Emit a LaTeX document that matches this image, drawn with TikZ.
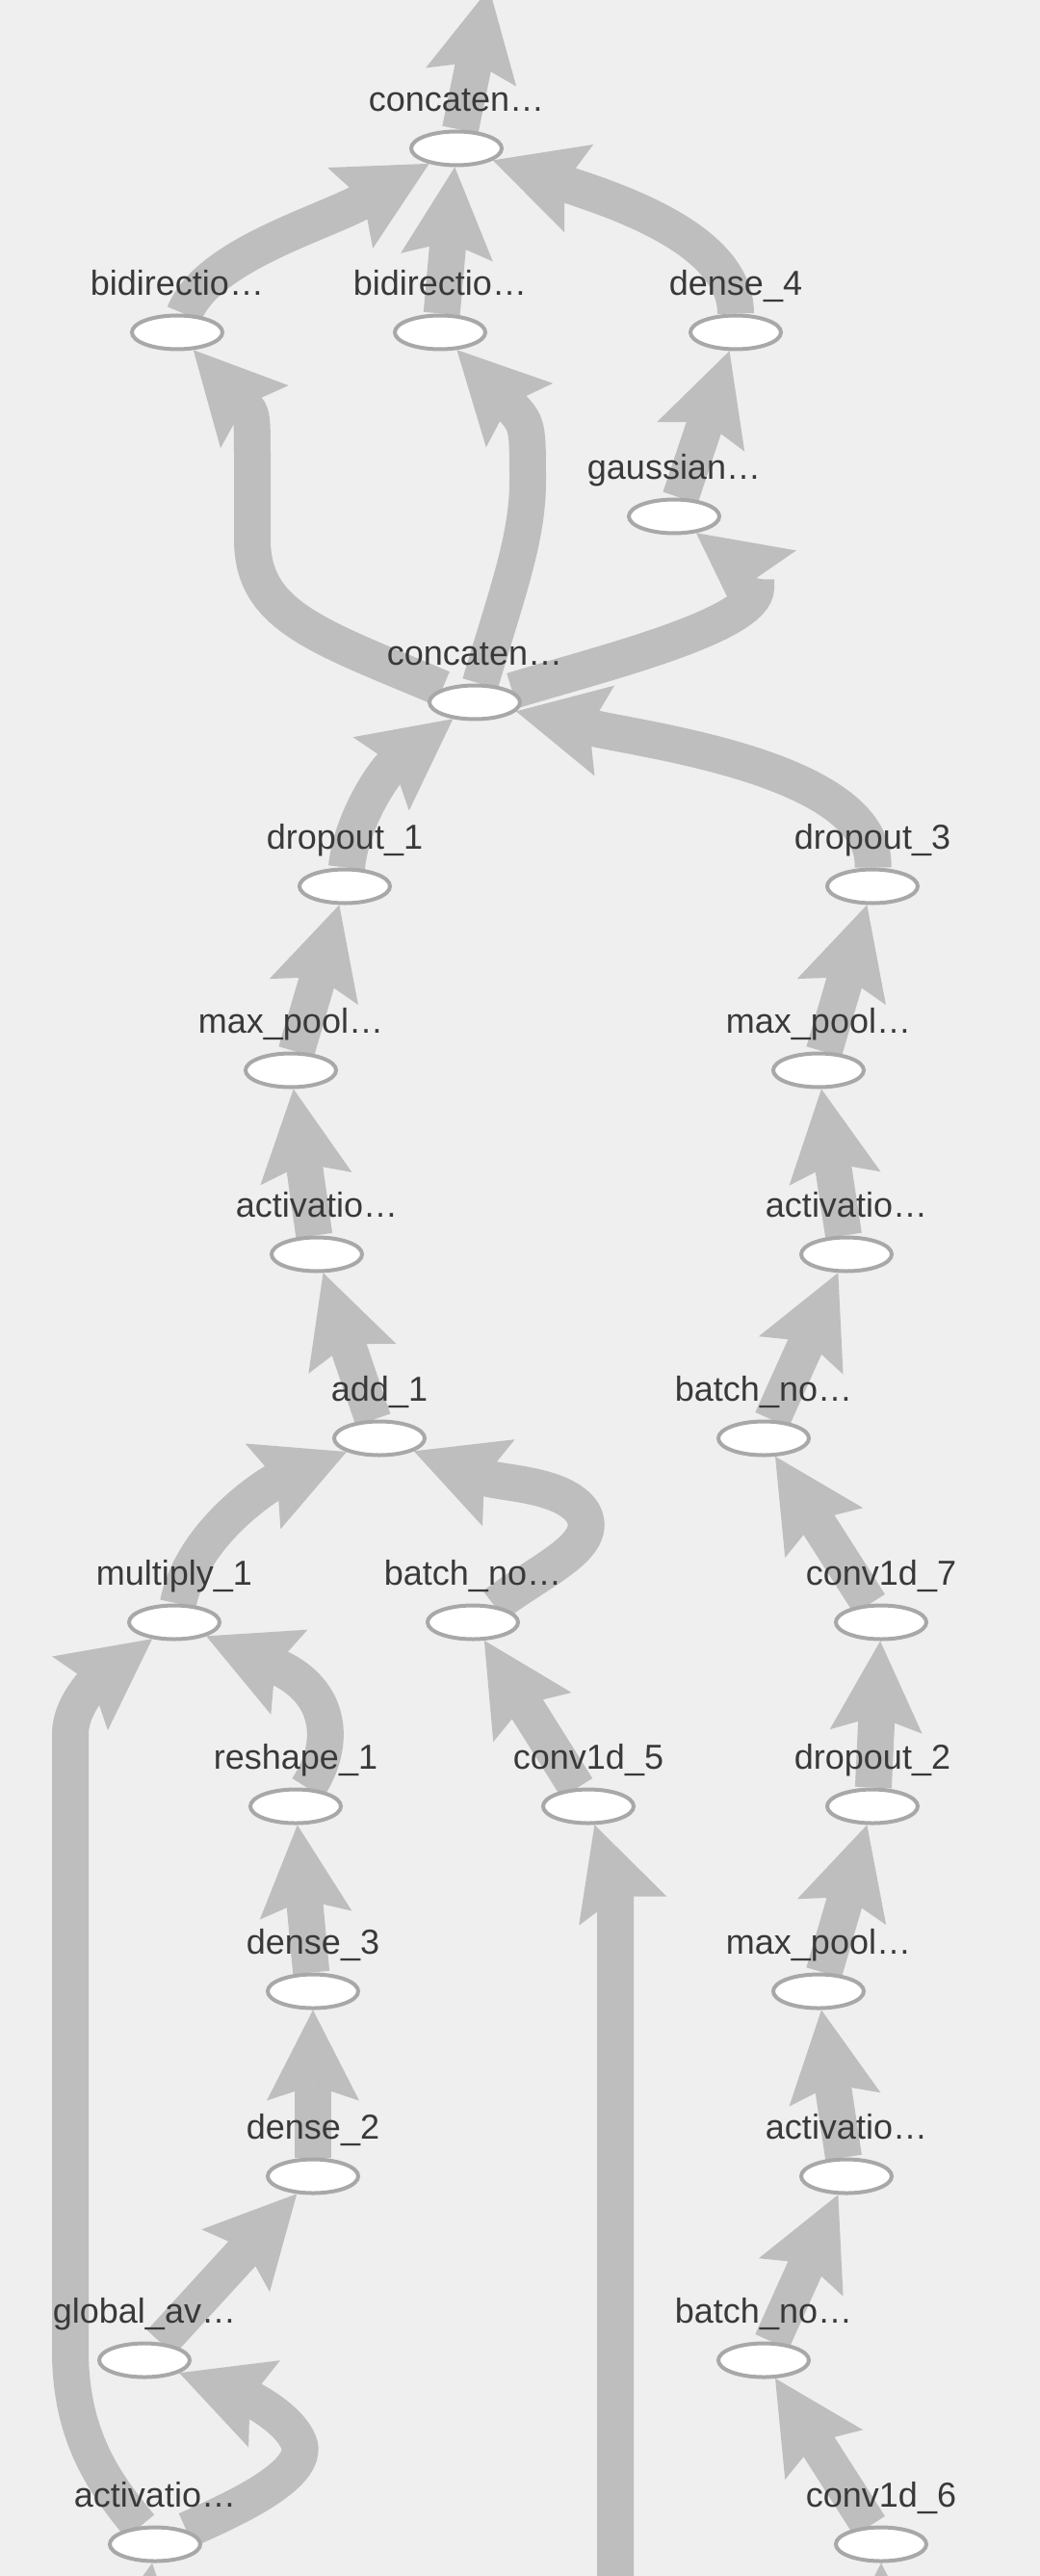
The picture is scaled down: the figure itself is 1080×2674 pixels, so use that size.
\documentclass[tikz,border=0pt]{standalone}
\usepackage{fontspec}
\setmainfont{Liberation Sans}
\usetikzlibrary{arrows.meta,shapes.geometric}
\definecolor{paper}{HTML}{EFEFEF}
\definecolor{wire}{HTML}{BEBEBE}
\definecolor{rim}{HTML}{A8A8A8}
\definecolor{ink}{HTML}{393939}
\pgfdeclarelayer{bg}
\pgfsetlayers{bg,main}
\tikzset{
  op/.style={ellipse,draw=rim,fill=white,line width=2pt,minimum width=47pt,minimum height=17.5pt,inner sep=0pt},
  lbl/.style={anchor=base,yshift=9.5pt,text=ink,inner sep=0pt,font=\fontsize{18pt}{20pt}\selectfont},
  flow/.style={wire,line width=19pt,-{Stealth[length=47pt,width=48pt,inset=8pt,line width=0pt]}},
}

\begin{document}
\begin{tikzpicture}[x=0.5pt,y=-0.5pt]
  \useasboundingbox (0,0) rectangle (1080,2674);
  % top block
  \node[op,label={[lbl]above:concaten…}] (cattop) at (474,154) {};
  \node[op,label={[lbl]above:bidirectio…}] (bidirA) at (184,345) {};
  \node[op,label={[lbl]above:bidirectio…}] (bidirB) at (457,345) {};
  \node[op,label={[lbl]above:dense\_4}] (denseD) at (764,345) {};
  \node[op,label={[lbl]above:gaussian…}] (gauss) at (700,536) {};
  \node[op,label={[lbl]above:concaten…}] (catmid) at (493,729) {};
  % left branch
  \node[op,label={[lbl]above:dropout\_1}] (dropA) at (358,920) {};
  \node[op,label={[lbl]above:max\_pool…}] (poolA) at (302,1111) {};
  \node[op,label={[lbl]above:activatio…}] (actA) at (329,1302) {};
  \node[op,label={[lbl]above:add\_1}] (add) at (394,1493) {};
  \node[op,label={[lbl]above:multiply\_1}] (mult) at (181,1684) {};
  \node[op,label={[lbl]above:batch\_no…}] (bnA) at (491,1684) {};
  \node[op,label={[lbl]above:reshape\_1}] (resh) at (307,1875) {};
  \node[op,label={[lbl]above:conv1d\_5}] (convE) at (611,1875) {};
  \node[op,label={[lbl]above:dense\_3}] (denseC) at (325,2067) {};
  \node[op,label={[lbl]above:dense\_2}] (denseB) at (325,2259) {};
  \node[op,label={[lbl]above:global\_av…}] (gap) at (150,2450) {};
  \node[op,label={[lbl]above:activatio…}] (actD) at (161,2641) {};
  % right branch
  \node[op,label={[lbl]above:dropout\_3}] (dropC) at (906,920) {};
  \node[op,label={[lbl]above:max\_pool…}] (poolB) at (850,1111) {};
  \node[op,label={[lbl]above:activatio…}] (actB) at (879,1302) {};
  \node[op,label={[lbl]above:batch\_no…}] (bnB) at (793,1493) {};
  \node[op,label={[lbl]above:conv1d\_7}] (convG) at (915,1684) {};
  \node[op,label={[lbl]above:dropout\_2}] (dropB) at (906,1875) {};
  \node[op,label={[lbl]above:max\_pool…}] (poolC) at (850,2067) {};
  \node[op,label={[lbl]above:activatio…}] (actC) at (879,2259) {};
  \node[op,label={[lbl]above:batch\_no…}] (bnC) at (793,2450) {};
  \node[op,label={[lbl]above:conv1d\_6}] (convF) at (915,2641) {};
  % loose ends outside the page
  \coordinate (sink) at (508,-12);
  \coordinate (srcE) at (639,2700);
  \coordinate (srcD) at (140,2780);
  \coordinate (srcF) at (915,2780);

  \begin{pgfonlayer}{bg}
    \fill[paper] (0,0) rectangle (1080,2674);
    \draw[flow] (cattop) -- (sink);
    \draw[flow] (bidirA) .. controls (215,265) and (335,232) .. (cattop);
    \draw[flow] (bidirB) -- (cattop);
    \draw[flow] (denseD) .. controls (764,250) and (645,210) .. (cattop);
    \draw[flow] (gauss) -- (denseD);
    \draw[flow] (catmid) .. controls (330,660) and (262,640) .. (262,560) -- (262,480) .. controls (262,430) .. (bidirA);
    \draw[flow] (catmid) .. controls (525,620) and (548,560) .. (548,500) .. controls (548,440) .. (bidirB);
    \draw[flow] (catmid) .. controls (620,690) and (785,650) .. (785,610) .. controls (785,600) .. (gauss);
    \draw[flow] (dropA) .. controls (365,850) and (400,800) .. (catmid);
    \draw[flow] (dropC) .. controls (910,800) and (680,770) .. (catmid);
    \draw[flow] (poolA) -- (dropA);
    \draw[flow] (actA) -- (poolA);
    \draw[flow] (add) -- (actA);
    \draw[flow] (mult) .. controls (200,1590) and (280,1540) .. (add);
    \draw[flow] (bnA) .. controls (560,1630) and (625,1605) .. (605,1570) .. controls (585,1540) and (520,1540) .. (add);
    \draw[flow] (resh) .. controls (350,1810) and (345,1755) .. (mult);
    \draw[flow] (actD) .. controls (110,2580) and (73,2530) .. (73,2440) -- (73,1800) .. controls (73,1770) and (100,1745) .. (mult);
    \draw[flow] (convE) -- (bnA);
    \draw[flow] (srcE) -- (639,2010) .. controls (639,1960) .. (convE);
    \draw[flow] (denseC) -- (resh);
    \draw[flow] (denseB) -- (denseC);
    \draw[flow] (gap) -- (denseB);
    \draw[flow] (actD) .. controls (230,2610) and (325,2570) .. (310,2535) .. controls (300,2510) and (260,2490) .. (gap);
    \draw[flow] (srcD) -- (actD);
    \draw[flow] (poolB) -- (dropC);
    \draw[flow] (actB) -- (poolB);
    \draw[flow] (bnB) -- (actB);
    \draw[flow] (convG) -- (bnB);
    \draw[flow] (dropB) -- (convG);
    \draw[flow] (poolC) -- (dropB);
    \draw[flow] (actC) -- (poolC);
    \draw[flow] (bnC) -- (actC);
    \draw[flow] (convF) -- (bnC);
    \draw[flow] (srcF) -- (convF);
  \end{pgfonlayer}
\end{tikzpicture}
\end{document}
